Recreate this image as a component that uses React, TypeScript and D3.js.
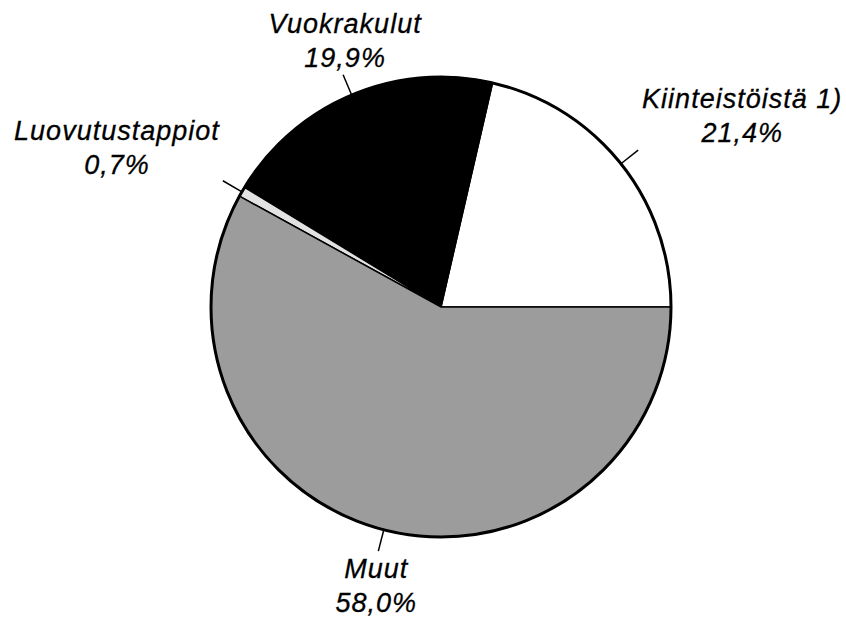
import React from "react";
import * as d3 from "d3";

// data
const categories = ["Kiinteistöistä 1)", "Vuokrakulut", "Luovutustappiot", "Muut"];
const values = [21.4, 19.9, 0.7, 58.0];
const valueLabels = ["21,4%", "19,9%", "0,7%", "58,0%"];
const fills = ["#ffffff", "#000000", "#e2e2e2", "#9c9c9c"];

// label centre offsets from the outer end of each leader line
const labelDx = [104, 2, -106, -2];
const labelDy = [-42, -42, -41, 27];

const width = 846;
const height = 617;
const cx = 441;
const cy = 307;
const radius = 230;
const leader = 22;

const App = () => {
  const pie = d3
    .pie<number>()
    .sort(null)
    .startAngle(Math.PI / 2)
    .endAngle(Math.PI / 2 - 2 * Math.PI);
  const arcs = pie(values);
  const arc = d3.arc<d3.PieArcDatum<number>>().innerRadius(0).outerRadius(radius);

  const textProps = {
    textAnchor: "middle" as const,
    fontFamily: "'Liberation Sans', Arial, sans-serif",
    fontStyle: "italic",
    fontSize: 27,
    letterSpacing: 1,
    fill: "#000",
    stroke: "#000",
    strokeWidth: 0.3,
  };

  return (
    <svg width={width} height={height} style={{ position: "absolute", left: 0, top: 0 }}>
      <rect width={width} height={height} fill="#ffffff" />
      <g transform={`translate(${cx},${cy})`}>
        {arcs.map((d, i) => (
          <path key={i} d={arc(d) || ""} fill={fills[i]} stroke="#000" strokeWidth={1.5} />
        ))}
        <circle r={radius} fill="none" stroke="#000" strokeWidth={3} />
        {arcs.map((d, i) => {
          // leader line along the slice's middle angle
          const a = (d.startAngle + d.endAngle) / 2;
          const x1 = Math.sin(a) * radius;
          const y1 = -Math.cos(a) * radius;
          const x2 = Math.sin(a) * (radius + leader);
          const y2 = -Math.cos(a) * (radius + leader);
          const tx = x2 + labelDx[i];
          const ty = y2 + labelDy[i];
          return (
            <g key={"l" + i}>
              <line x1={x1} y1={y1} x2={x2} y2={y2} stroke="#000" strokeWidth={1.5} />
              <text x={tx} y={ty} {...textProps}>
                {categories[i]}
              </text>
              <text x={tx} y={ty + 34} {...textProps}>
                {valueLabels[i]}
              </text>
            </g>
          );
        })}
      </g>
    </svg>
  );
};

export default App;
